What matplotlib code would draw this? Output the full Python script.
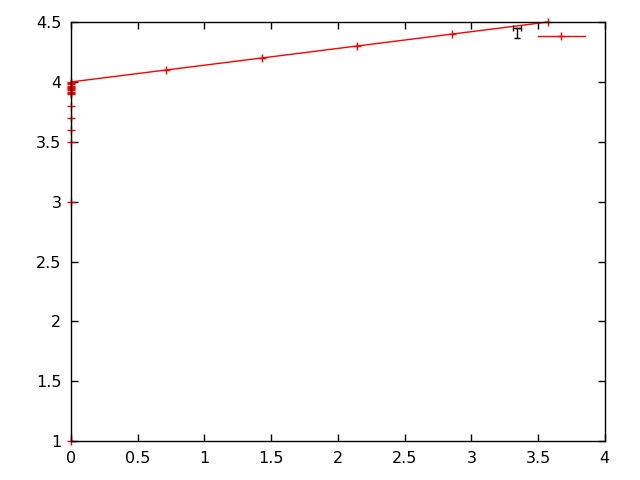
import numpy as np
import matplotlib.pyplot as plt

# main series
line_x = [0, 0.714, 1.429, 2.143, 2.857, 3.571]
line_y = [4.0, 4.1, 4.2, 4.3, 4.4, 4.5]

# points stacked on x = 0
zero_y = [1.0, 3.0, 3.5, 3.6, 3.7, 3.8, 3.9, 3.91, 3.92, 3.93, 3.94, 3.95, 3.96, 3.97, 3.98, 3.99]

# odd black point near the top
blk_x = [3.34]
blk_y = [4.45]

x_ticks = [0, 0.5, 1, 1.5, 2, 2.5, 3, 3.5, 4]
y_ticks = [1, 1.5, 2, 2.5, 3, 3.5, 4, 4.5]

fig = plt.figure(figsize=(6.4, 4.8), dpi=100)
ax = fig.add_axes([0.111, 0.081, 0.834, 0.873])

ax.plot(line_x, line_y, color='red', lw=1, marker='+', ms=6, mew=1, clip_on=False, label=' ')
ax.plot([0] * len(zero_y), zero_y, ls='none', color='red', marker='+', ms=6, mew=1, clip_on=False)
ax.errorbar(blk_x, blk_y, xerr=0.03, yerr=[[0.08], [0.0]], fmt='none', ecolor='black',
            elinewidth=1, capsize=2, clip_on=False)

ax.set_xlim(0, 4)
ax.set_ylim(1, 4.5)
ax.set_xticks(x_ticks)
ax.set_xticklabels(['0', '0.5', '1', '1.5', '2', '2.5', '3', '3.5', '4'])
ax.set_yticks(y_ticks)
ax.set_yticklabels(['1', '1.5', '2', '2.5', '3', '3.5', '4', '4.5'])
ax.tick_params(direction='in', top=True, right=True, length=5, width=1, labelsize=11.5, pad=7)
for s in ax.spines.values():
    s.set_linewidth(1)

leg = ax.legend(loc='upper right', frameon=False, handlelength=3.4, borderaxespad=0.3,
                handletextpad=0.2, bbox_to_anchor=(0.994, 1.004))

fig.savefig('out.png', dpi=100)
